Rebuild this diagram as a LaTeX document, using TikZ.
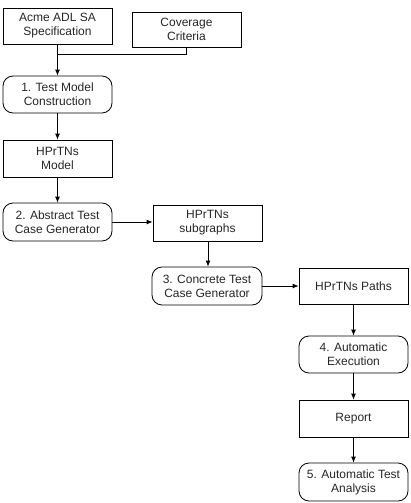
\documentclass[tikz,border=0pt]{standalone}
\usepackage{fontspec}
\setmainfont{Liberation Sans}
\usetikzlibrary{arrows.meta}
\begin{document}
\begin{tikzpicture}[x=1pt,y=-1pt,
  base/.style={draw=black,line width=0.8pt,align=center,inner sep=0pt,minimum width=109pt,
    font=\fontsize{12}{14}\selectfont,text=black!85},
  boxn/.style={base,minimum height=36pt},
  roundn/.style={base,rounded corners=10pt,minimum height=37pt},
  conn/.style={line width=0.8pt,-{Latex[length=6pt,width=5pt]}}]
\useasboundingbox (0,0) rectangle (411,503);
\node[boxn] (acme) at (57.5,26) {Acme ADL SA\\Specification};
\node[boxn,minimum height=35pt] (cov) at (186.5,29.5) {Coverage\\Criteria};
\node[roundn] (t1) at (57.5,94.5) {1. Test Model\\Construction};
\node[boxn,minimum height=37pt] (model) at (57.5,158.5) {HPrTNs\\Model};
\node[roundn,minimum height=38pt] (abs) at (57.5,222) {2. Abstract Test\\Case Generator};
\node[boxn] (sub) at (207.5,223) {HPrTNs\\subgraphs};
\node[roundn,minimum height=38pt,minimum width=110pt] (conc) at (207,286) {3. Concrete Test\\Case Generator};
\node[boxn] (paths) at (353.5,286) {HPrTNs Paths};
\node[roundn] (exec) at (353.5,354.5) {4. Automatic\\Execution};
\node[boxn,minimum height=37pt] (rep) at (353.5,418.5) {Report};
\node[roundn,minimum height=38pt] (ana) at (353.5,482) {5. Automatic Test\\Analysis};
\coordinate (j) at (57.5,54);
\draw[line width=0.8pt] (cov.south) |- (j);
\draw[conn] (acme) -- (t1);
\draw[conn] (t1) -- (model);
\draw[conn] (model) -- (abs);
\draw[conn] (abs.east) -- (abs.east -| sub.west);
\draw[conn] (sub.south -| 208,0) -- (208,0 |- conc.north);
\draw[conn] (conc.east) -- (conc.east -| paths.west);
\draw[conn] (paths) -- (exec);
\draw[conn] (exec) -- (rep);
\draw[conn] (rep) -- (ana);
\end{tikzpicture}
\end{document}
